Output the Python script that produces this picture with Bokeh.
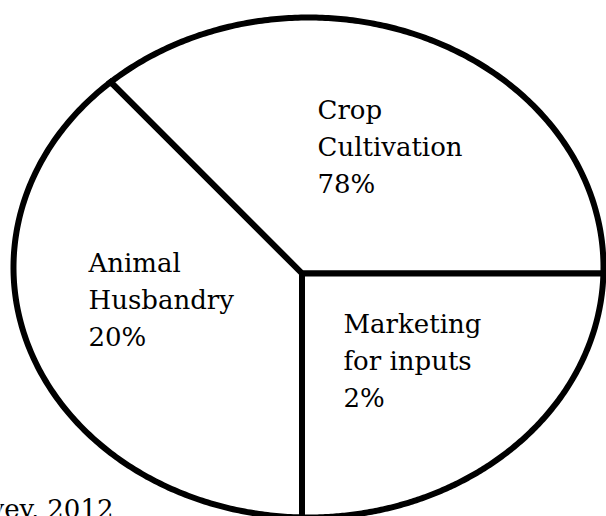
import numpy as np
from bokeh.plotting import figure
from bokeh.models import Range1d, ColumnDataSource
from bokeh.core.properties import value
from bokeh.embed import file_html
from bokeh.resources import INLINE

# ---- data ----
categories = ["Crop Cultivation", "Animal Husbandry", "Marketing for inputs"]
label_lines = [["Crop", "Cultivation"], ["Animal", "Husbandry"], ["Marketing", "for inputs"]]
percent = [78, 20, 2]
# slice boundaries as drawn (degrees, counter-clockwise from the right)
start_deg = [0, 135, 270]
end_deg = [135, 270, 360]
source_note = "Source: Field Survey, 2012"

# ---- layout (pixel space, y downward) ----
W, H = 606, 516
cx, cy, rx, ry = 308.0, 267.0, 295.0, 250.0   # ellipse outline
hx, hy = 301.5, 273.0                          # hub where slices meet
label_pos = [(317, 109), (88, 262), (343, 323)]
line_gap = 37
FONT = value("DejaVu Serif")

p = figure(width=W, height=H, output_backend="svg", toolbar_location=None,
           x_range=Range1d(0, W), y_range=Range1d(H, 0),
           min_border=0, outline_line_color=None, background_fill_color="white",
           border_fill_color="white")
p.axis.visible = False
p.grid.visible = False


def ray_r(theta):
    c, s = np.cos(theta), -np.sin(theta)
    dx, dy = hx - cx, hy - cy
    a = (c / rx) ** 2 + (s / ry) ** 2
    b = 2 * (dx * c / rx ** 2 + dy * s / ry ** 2)
    c0 = (dx / rx) ** 2 + (dy / ry) ** 2 - 1
    return (-b + np.sqrt(b * b - 4 * a * c0)) / (2 * a)


xs, ys = [], []
for s0, s1 in zip(start_deg, end_deg):
    th = np.radians(np.linspace(s0, s1, 200))
    r = ray_r(th)
    xs.append([hx] + list(hx + r * np.cos(th)) + [hx])
    ys.append([hy] + list(hy - r * np.sin(th)) + [hy])

p.patches(xs=xs, ys=ys, fill_color="white", line_color="black", line_width=6,
          line_join="miter")

tx, ty, tt = [], [], []
for (lx, ly), lines, pc in zip(label_pos, label_lines, percent):
    for i, t in enumerate(lines + [f"{pc}%"]):
        tx.append(lx)
        ty.append(ly + i * line_gap)
        tt.append(t)
src = ColumnDataSource(dict(x=tx, y=ty, text=tt))
p.text(x="x", y="y", text="text", source=src, text_font=FONT, text_font_size="26px",
       text_color="black", text_baseline="alphabetic", text_align="left")

p.text(x=[113], y=[508], text=[source_note], text_font=FONT, text_font_size="26px",
       text_color="black", text_baseline="alphabetic", text_align="right")

open("out.html", "w").write(file_html(p, INLINE))
